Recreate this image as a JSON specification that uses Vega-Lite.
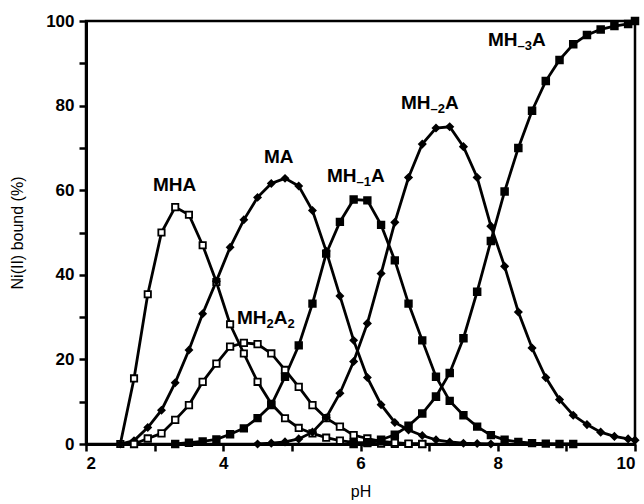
{
  "$schema": "https://vega.github.io/schema/vega-lite/v6.json",
  "width": 549,
  "height": 423,
  "autosize": {"type": "none"},
  "padding": {"left": 86, "top": 21, "right": 9, "bottom": 60},
  "background": "white",
  "config": {
    "view": {"stroke": "black", "strokeWidth": 2.5},
    "font": "Liberation Sans",
    "axis": {
      "domainColor": "black", "domainWidth": 3, "tickColor": "black", "tickWidth": 2.5,
      "tickSize": 7, "grid": false, "labelFont": "Liberation Sans", "labelFontWeight": "bold",
      "labelFontSize": 17, "labelColor": "black", "titleFont": "Liberation Sans",
      "titleFontWeight": "normal", "titleFontSize": 16, "titleColor": "black"
    }
  },
  "datasets": {
    "curves": [
      {"s":"MHA","pH":2.5,"v":0},{"s":"MHA","pH":2.7,"v":15.5},{"s":"MHA","pH":2.9,"v":35.4},{"s":"MHA","pH":3.1,"v":50},{"s":"MHA","pH":3.3,"v":56},{"s":"MHA","pH":3.5,"v":54.2},{"s":"MHA","pH":3.7,"v":47},{"s":"MHA","pH":3.9,"v":38.3},{"s":"MHA","pH":4.1,"v":28.3},{"s":"MHA","pH":4.3,"v":21.4},{"s":"MHA","pH":4.5,"v":14.7},{"s":"MHA","pH":4.7,"v":9.5},{"s":"MHA","pH":4.9,"v":6.1},{"s":"MHA","pH":5.1,"v":3.8},{"s":"MHA","pH":5.3,"v":2.5},{"s":"MHA","pH":5.5,"v":1.5},{"s":"MHA","pH":5.7,"v":0.8},{"s":"MHA","pH":5.9,"v":0.4},{"s":"MHA","pH":6.1,"v":0.2},{"s":"MHA","pH":6.3,"v":0.1},{"s":"MHA","pH":6.5,"v":0},{"s":"MHA","pH":6.7,"v":0},{"s":"MHA","pH":6.9,"v":0},
      {"s":"MA","pH":2.5,"v":0},{"s":"MA","pH":2.7,"v":0.8},{"s":"MA","pH":2.9,"v":3.9},{"s":"MA","pH":3.1,"v":8.0},{"s":"MA","pH":3.3,"v":14.5},{"s":"MA","pH":3.5,"v":22.2},{"s":"MA","pH":3.7,"v":30.8},{"s":"MA","pH":3.9,"v":38.5},{"s":"MA","pH":4.1,"v":46.5},{"s":"MA","pH":4.3,"v":53},{"s":"MA","pH":4.5,"v":58.3},{"s":"MA","pH":4.7,"v":61.6},{"s":"MA","pH":4.9,"v":62.8},{"s":"MA","pH":5.1,"v":61},{"s":"MA","pH":5.3,"v":55.2},{"s":"MA","pH":5.5,"v":45.6},{"s":"MA","pH":5.7,"v":35},{"s":"MA","pH":5.9,"v":24.5},{"s":"MA","pH":6.1,"v":15.7},{"s":"MA","pH":6.3,"v":9.3},{"s":"MA","pH":6.5,"v":5.1},{"s":"MA","pH":6.7,"v":3.3},{"s":"MA","pH":6.9,"v":2},{"s":"MA","pH":7.1,"v":1},{"s":"MA","pH":7.3,"v":0.5},{"s":"MA","pH":7.5,"v":0.2},{"s":"MA","pH":7.7,"v":0.1},{"s":"MA","pH":7.9,"v":0},
      {"s":"MH2A2","pH":2.7,"v":0},{"s":"MH2A2","pH":2.9,"v":1.3},{"s":"MH2A2","pH":3.1,"v":2.5},{"s":"MH2A2","pH":3.3,"v":5.7},{"s":"MH2A2","pH":3.5,"v":9.2},{"s":"MH2A2","pH":3.7,"v":14.7},{"s":"MH2A2","pH":3.9,"v":19},{"s":"MH2A2","pH":4.1,"v":23},{"s":"MH2A2","pH":4.3,"v":23.9},{"s":"MH2A2","pH":4.5,"v":23.6},{"s":"MH2A2","pH":4.7,"v":21.4},{"s":"MH2A2","pH":4.9,"v":17.5},{"s":"MH2A2","pH":5.1,"v":13.5},{"s":"MH2A2","pH":5.3,"v":9.2},{"s":"MH2A2","pH":5.5,"v":6.1},{"s":"MH2A2","pH":5.7,"v":4.1},{"s":"MH2A2","pH":5.9,"v":2.1},{"s":"MH2A2","pH":6.1,"v":1.3},{"s":"MH2A2","pH":6.3,"v":0.6},{"s":"MH2A2","pH":6.5,"v":0.3},{"s":"MH2A2","pH":6.7,"v":0.1},{"s":"MH2A2","pH":6.9,"v":0},
      {"s":"MH-1A","pH":3.3,"v":0},{"s":"MH-1A","pH":3.5,"v":0.3},{"s":"MH-1A","pH":3.7,"v":0.6},{"s":"MH-1A","pH":3.9,"v":1.1},{"s":"MH-1A","pH":4.1,"v":2.3},{"s":"MH-1A","pH":4.3,"v":3.7},{"s":"MH-1A","pH":4.5,"v":6.1},{"s":"MH-1A","pH":4.7,"v":9.2},{"s":"MH-1A","pH":4.9,"v":15.9},{"s":"MH-1A","pH":5.1,"v":23.3},{"s":"MH-1A","pH":5.3,"v":33.2},{"s":"MH-1A","pH":5.5,"v":45},{"s":"MH-1A","pH":5.7,"v":52.5},{"s":"MH-1A","pH":5.9,"v":57.8},{"s":"MH-1A","pH":6.1,"v":57.6},{"s":"MH-1A","pH":6.3,"v":51.8},{"s":"MH-1A","pH":6.5,"v":43.4},{"s":"MH-1A","pH":6.7,"v":33.2},{"s":"MH-1A","pH":6.9,"v":24.5},{"s":"MH-1A","pH":7.1,"v":15.9},{"s":"MH-1A","pH":7.3,"v":10.2},{"s":"MH-1A","pH":7.5,"v":6.8},{"s":"MH-1A","pH":7.7,"v":4.1},{"s":"MH-1A","pH":7.9,"v":2.1},{"s":"MH-1A","pH":8.1,"v":1.0},{"s":"MH-1A","pH":8.3,"v":0.5},{"s":"MH-1A","pH":8.5,"v":0.2},{"s":"MH-1A","pH":8.7,"v":0.1},{"s":"MH-1A","pH":8.9,"v":0},{"s":"MH-1A","pH":9.1,"v":0},
      {"s":"MH-2A","pH":4.5,"v":0},{"s":"MH-2A","pH":4.7,"v":0.2},{"s":"MH-2A","pH":4.9,"v":0.5},{"s":"MH-2A","pH":5.1,"v":1.2},{"s":"MH-2A","pH":5.3,"v":2.8},{"s":"MH-2A","pH":5.5,"v":6.2},{"s":"MH-2A","pH":5.7,"v":12},{"s":"MH-2A","pH":5.9,"v":19.5},{"s":"MH-2A","pH":6.1,"v":28.5},{"s":"MH-2A","pH":6.3,"v":40.3},{"s":"MH-2A","pH":6.5,"v":52.4},{"s":"MH-2A","pH":6.7,"v":63},{"s":"MH-2A","pH":6.9,"v":70.9},{"s":"MH-2A","pH":7.1,"v":74.7},{"s":"MH-2A","pH":7.3,"v":75},{"s":"MH-2A","pH":7.5,"v":70.3},{"s":"MH-2A","pH":7.7,"v":63},{"s":"MH-2A","pH":7.9,"v":51.5},{"s":"MH-2A","pH":8.1,"v":42},{"s":"MH-2A","pH":8.3,"v":31.2},{"s":"MH-2A","pH":8.5,"v":22.7},{"s":"MH-2A","pH":8.7,"v":15.7},{"s":"MH-2A","pH":8.9,"v":10.5},{"s":"MH-2A","pH":9.1,"v":6.8},{"s":"MH-2A","pH":9.3,"v":4.6},{"s":"MH-2A","pH":9.5,"v":2.8},{"s":"MH-2A","pH":9.7,"v":1.8},{"s":"MH-2A","pH":9.9,"v":1.2},{"s":"MH-2A","pH":10.0,"v":0.9},
      {"s":"MH-3A","pH":5.9,"v":0},{"s":"MH-3A","pH":6.1,"v":0.4},{"s":"MH-3A","pH":6.3,"v":1.0},{"s":"MH-3A","pH":6.5,"v":2.2},{"s":"MH-3A","pH":6.7,"v":4.3},{"s":"MH-3A","pH":6.9,"v":7.2},{"s":"MH-3A","pH":7.1,"v":11.2},{"s":"MH-3A","pH":7.3,"v":16.8},{"s":"MH-3A","pH":7.5,"v":25},{"s":"MH-3A","pH":7.7,"v":36},{"s":"MH-3A","pH":7.9,"v":48},{"s":"MH-3A","pH":8.1,"v":59.7},{"s":"MH-3A","pH":8.3,"v":70},{"s":"MH-3A","pH":8.5,"v":78.8},{"s":"MH-3A","pH":8.7,"v":85.8},{"s":"MH-3A","pH":8.9,"v":90.8},{"s":"MH-3A","pH":9.1,"v":94.5},{"s":"MH-3A","pH":9.3,"v":96.7},{"s":"MH-3A","pH":9.5,"v":98},{"s":"MH-3A","pH":9.7,"v":98.8},{"s":"MH-3A","pH":9.9,"v":99.3},{"s":"MH-3A","pH":10.0,"v":100}
    ],
    "labels": [
      {"t":"MHA","pH":2.976,"v":61.2},
      {"t":"MA","pH":4.594,"v":67.8},
      {"t":"MH","pH":5.512,"v":63.4},{"t":"A","pH":6.153,"v":63.4},
      {"t":"MH","pH":6.59,"v":80.6},{"t":"A","pH":7.231,"v":80.6},
      {"t":"MH","pH":7.858,"v":95.5},{"t":"A","pH":8.499,"v":95.5},
      {"t":"MH","pH":4.2,"v":29.8},{"t":"A","pH":4.735,"v":29.8}
    ],
    "subs": [
      {"t":"–1","pH":5.942,"v":63.4},
      {"t":"–2","pH":7.02,"v":80.6},
      {"t":"–3","pH":8.288,"v":95.5},
      {"t":"2","pH":4.63,"v":29.8},
      {"t":"2","pH":4.935,"v":29.8}
    ]
  },
  "layer": [
    {
      "data": {"name": "curves"},
      "mark": {"type": "line", "color": "black", "strokeWidth": 2.8, "clip": false},
      "encoding": {
        "x": {"field": "pH", "type": "quantitative", "scale": {"domain": [2, 10], "nice": false, "zero": false},
              "axis": {"values": [2,3,4,5,6,7,8,9,10], "format": "d", "labelExpr": "datum.value % 2 == 0 ? datum.label : ''", "title": "pH", "labelPadding": 4, "titlePadding": 12}},
        "y": {"field": "v", "type": "quantitative", "scale": {"domain": [0, 100], "nice": false},
              "axis": {"values": [0,10,20,30,40,50,60,70,80,90,100], "labelExpr": "datum.value % 20 == 0 ? datum.label : ''", "title": "Ni(II) bound (%)", "labelPadding": 5, "titlePadding": 20}},
        "detail": {"field": "s"}
      }
    },
    {
      "data": {"name": "curves"},
      "mark": {"type": "point", "strokeWidth": 1.8, "opacity": 1, "clip": false},
      "encoding": {
        "x": {"field": "pH", "type": "quantitative"},
        "y": {"field": "v", "type": "quantitative"},
        "shape": {"field": "s", "type": "nominal", "legend": null,
                  "scale": {"domain": ["MHA","MA","MH2A2","MH-1A","MH-2A","MH-3A"], "range": ["square","diamond","square","square","diamond","square"]}},
        "fill": {"field": "s", "type": "nominal", "legend": null,
                 "scale": {"domain": ["MHA","MA","MH2A2","MH-1A","MH-2A","MH-3A"], "range": ["white","black","white","black","black","black"]}},
        "stroke": {"value": "black"},
        "size": {"field": "s", "type": "nominal", "legend": null,
                 "scale": {"domain": ["MHA","MA","MH2A2","MH-1A","MH-2A","MH-3A"], "range": [40, 45, 40, 55, 45, 55]}}
      }
    },
    {
      "data": {"name": "labels"},
      "mark": {"type": "text", "fontSize": 19, "fontWeight": "bold", "font": "Liberation Sans", "color": "black", "align": "left", "baseline": "middle"},
      "encoding": {
        "x": {"field": "pH", "type": "quantitative"},
        "y": {"field": "v", "type": "quantitative"},
        "text": {"field": "t"}
      }
    },
    {
      "data": {"name": "subs"},
      "mark": {"type": "text", "fontSize": 13, "fontWeight": "bold", "font": "Liberation Sans", "color": "black", "align": "left", "baseline": "middle", "dy": 6},
      "encoding": {
        "x": {"field": "pH", "type": "quantitative"},
        "y": {"field": "v", "type": "quantitative"},
        "text": {"field": "t"}
      }
    }
  ]
}
